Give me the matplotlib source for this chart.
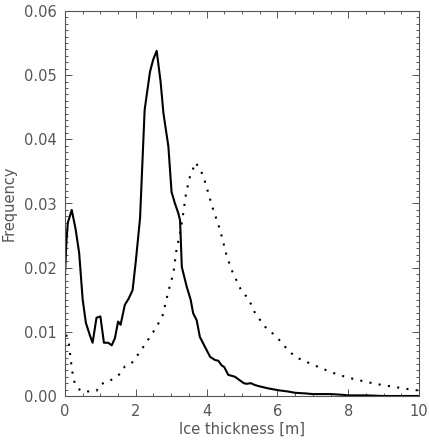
import numpy as np
import matplotlib
matplotlib.use('Agg')
import matplotlib.pyplot as plt
from matplotlib.ticker import MultipleLocator

# solid curve: ice thickness [m] vs frequency
thick_solid = [0.0, 0.04, 0.08, 0.19, 0.3, 0.4, 0.5, 0.59, 0.7, 0.78, 0.89, 1.0,
               1.1, 1.22, 1.32, 1.41, 1.5, 1.57, 1.69, 1.8, 1.91, 2.0, 2.12,
               2.25, 2.4, 2.49, 2.59, 2.7, 2.78, 2.92, 3.01, 3.1, 3.2, 3.25, 3.3,
               3.44, 3.55, 3.62, 3.72, 3.81, 3.95, 4.1, 4.24, 4.33, 4.42, 4.5,
               4.61, 4.8, 4.95, 5.05, 5.13, 5.25, 5.37, 5.5, 5.73, 6.02, 6.3,
               6.5, 6.8, 7.0, 7.3, 7.5, 7.8, 8.0, 8.5, 9.0, 9.5, 10.0]
freq_solid = [0.0189, 0.0240, 0.0270, 0.0290, 0.0260, 0.0223, 0.0150, 0.0114,
              0.0095, 0.0083, 0.0122, 0.0124, 0.0083, 0.0083, 0.0079, 0.0090,
              0.0116, 0.0111, 0.0142, 0.0152, 0.0165, 0.0210, 0.0277, 0.0446,
              0.0505, 0.0524, 0.0538, 0.0490, 0.0441, 0.0389, 0.0318, 0.0301,
              0.0285, 0.0274, 0.0201, 0.0170, 0.0150, 0.0129, 0.0118, 0.0092,
              0.0077, 0.0061, 0.0056, 0.0055, 0.0048, 0.0045, 0.0033, 0.0030,
              0.0024, 0.0020, 0.0019, 0.0020, 0.0017, 0.0015, 0.0012, 0.0009,
              0.0007, 0.0005, 0.0004, 0.0003, 0.0003, 0.0003, 0.0002, 0.0001,
              0.0001, 0.0000, 0.0000, 0.0000]

# dotted curve
thick_dot = [0.0, 0.02, 0.11, 0.17, 0.22, 0.28, 0.44, 0.69, 0.89, 1.01, 1.2,
             1.38, 1.57, 1.69, 1.88, 2.12, 2.4, 2.59, 2.76, 2.92, 3.06, 3.15,
             3.25, 3.32, 3.42, 3.53, 3.69, 3.79, 3.9, 4.04, 4.16, 4.38, 4.56,
             4.71, 4.99, 5.18, 5.37, 5.65, 5.98, 6.26, 6.5, 6.83, 7.25, 7.72,
             8.19, 8.76, 9.32, 9.89, 10.0]
freq_dot = [0.0110, 0.0098, 0.0082, 0.0053, 0.0033, 0.0019, 0.0008, 0.0007,
            0.0008, 0.0019, 0.0021, 0.0028, 0.0035, 0.0046, 0.0051, 0.0069,
            0.0092, 0.0108, 0.0126, 0.0163, 0.0191, 0.0228, 0.0254, 0.0277,
            0.0316, 0.0342, 0.0364, 0.0355, 0.0344, 0.0318, 0.0295, 0.0259,
            0.0220, 0.0196, 0.0163, 0.0152, 0.0129, 0.0108, 0.0092, 0.0074,
            0.0061, 0.0053, 0.0043, 0.0033, 0.0026, 0.0019, 0.0014, 0.0009,
            0.0009]

gray = '#555555'
plt.rcParams['font.family'] = 'DejaVu Sans'

fig = plt.figure(figsize=(4.29, 4.40), dpi=100)
ax = fig.add_axes([0.1515, 0.1, 0.8252, 0.875])

ax.plot(thick_solid, freq_solid, color='black', lw=1.5)
ax.plot(thick_dot, freq_dot, color='black', lw=1.5, linestyle=(0, (1, 3.5)))

ax.set_xlim(0, 10)
ax.set_ylim(0, 0.06)
ax.xaxis.set_major_locator(MultipleLocator(2))
ax.xaxis.set_minor_locator(MultipleLocator(0.5))
ax.yaxis.set_major_locator(MultipleLocator(0.01))
ax.yaxis.set_minor_locator(MultipleLocator(0.001))
ax.yaxis.set_major_formatter(matplotlib.ticker.FormatStrFormatter('%.2f'))

ax.tick_params(which='both', direction='in', top=True, right=True,
               color=gray, width=0.7, labelsize=10.5, labelcolor=gray, pad=6)
ax.tick_params(which='major', length=5)
ax.tick_params(which='minor', length=2.5)
for s in ax.spines.values():
    s.set_color(gray)
    s.set_linewidth(0.8)

ax.set_xlabel('Ice thickness [m]', fontsize=10.5, color=gray, labelpad=2)
ax.set_ylabel('Frequency', fontsize=10.5, color=gray, labelpad=5)

plt.savefig('out.png', dpi=100)
